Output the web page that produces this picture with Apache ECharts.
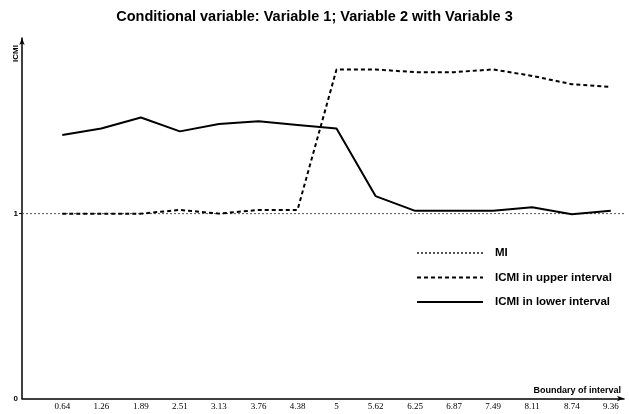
<!DOCTYPE html>
<html><head><meta charset="utf-8">
<script src="https://cdn.jsdelivr.net/npm/echarts@6/dist/echarts.min.js"></script>
<style>html,body{margin:0;padding:0;background:#fff}#c{width:629px;height:414px}</style>
</head><body><div id="c"></div>
<script>
const boundaries = [0.64,1.26,1.89,2.51,3.13,3.76,4.38,5,5.62,6.25,6.87,7.49,8.11,8.74,9.36];
const upperICMI = [1.0,1.0,1.0,1.02,1.0,1.02,1.02,1.78,1.78,1.765,1.765,1.78,1.745,1.70,1.685];
const lowerICMI = [1.425,1.46,1.52,1.445,1.485,1.50,1.48,1.46,1.095,1.015,1.015,1.015,1.035,0.997,1.015];
const miValue = 1;
const yTicks = [0,1];
const xMin = 0, xMax = 9.57;

const pair = (xs, ys) => xs.map((x,i)=>[x, ys[i]]);
const chart = echarts.init(document.getElementById('c'), null, {renderer:'canvas'});
const sans = 'Liberation Sans, Arial, sans-serif';
chart.setOption({
  animation:false,
  backgroundColor:'#fff',
  title:{text:'Conditional variable: Variable 1; Variable 2 with Variable 3', left:'center', top:4,
    textStyle:{fontFamily:sans, fontSize:14.5, fontWeight:'bold', color:'#000'}},
  legend:{orient:'vertical', left:411, top:242, itemWidth:66, itemHeight:10, itemGap:12.5,
    itemStyle:{opacity:0},
    textStyle:{fontFamily:sans, fontSize:11.5, fontWeight:'bold', color:'#000', padding:[0,0,0,7]},
    data:['MI','ICMI in upper interval','ICMI in lower interval']},
  grid:{left:22, right:5, top:38, bottom:15.5, containLabel:false},
  xAxis:{type:'value', min:xMin, max:xMax,
    name:'Boundary of interval', nameLocation:'end', nameGap:-3,
    nameTextStyle:{fontFamily:sans, fontSize:9, fontWeight:'bold', color:'#000', align:'right', verticalAlign:'bottom', padding:[0,0,3,0]},
    axisLine:{show:true, onZero:false, symbol:['none','arrow'], symbolSize:[4,7], lineStyle:{color:'#000', width:1.5}},
    axisTick:{show:false},
    splitLine:{show:false},
    axisLabel:{customValues:boundaries, formatter:v=>String(v), margin:4,
      fontFamily:'Liberation Serif, Times New Roman, serif', fontSize:9, color:'#000'}},
  yAxis:{type:'value', min:0, max:1.95,
    name:'ICMI', nameLocation:'end', nameRotate:90, nameGap:-7,
    nameTextStyle:{fontFamily:sans, fontSize:8, fontWeight:'bold', color:'#000', align:'right', verticalAlign:'bottom', padding:[0,0,2,0]},
    axisLine:{show:true, onZero:false, symbol:['none','arrow'], symbolSize:[4,7], lineStyle:{color:'#000', width:1.5}},
    axisTick:{show:true, customValues:[1], length:3, lineStyle:{color:'#000'}},
    splitLine:{show:false},
    axisLabel:{customValues:yTicks, formatter:v=>String(v), margin:4,
      fontFamily:sans, fontSize:8, fontWeight:'bold', color:'#000'}},
  series:[
    {name:'MI', type:'line', symbol:'none', data:[[xMin,miValue],[xMax,miValue]],
      itemStyle:{color:'#555'}, lineStyle:{color:'#555', width:1, type:[2,2]}, z:1},
    {name:'ICMI in upper interval', type:'line', symbol:'none', data:pair(boundaries, upperICMI),
      itemStyle:{color:'#000'}, lineStyle:{color:'#000', width:2, type:[4,3]}, z:2},
    {name:'ICMI in lower interval', type:'line', symbol:'none', data:pair(boundaries, lowerICMI),
      itemStyle:{color:'#000'}, lineStyle:{color:'#000', width:2, type:'solid'}, z:3}
  ]
});
</script></body></html>
